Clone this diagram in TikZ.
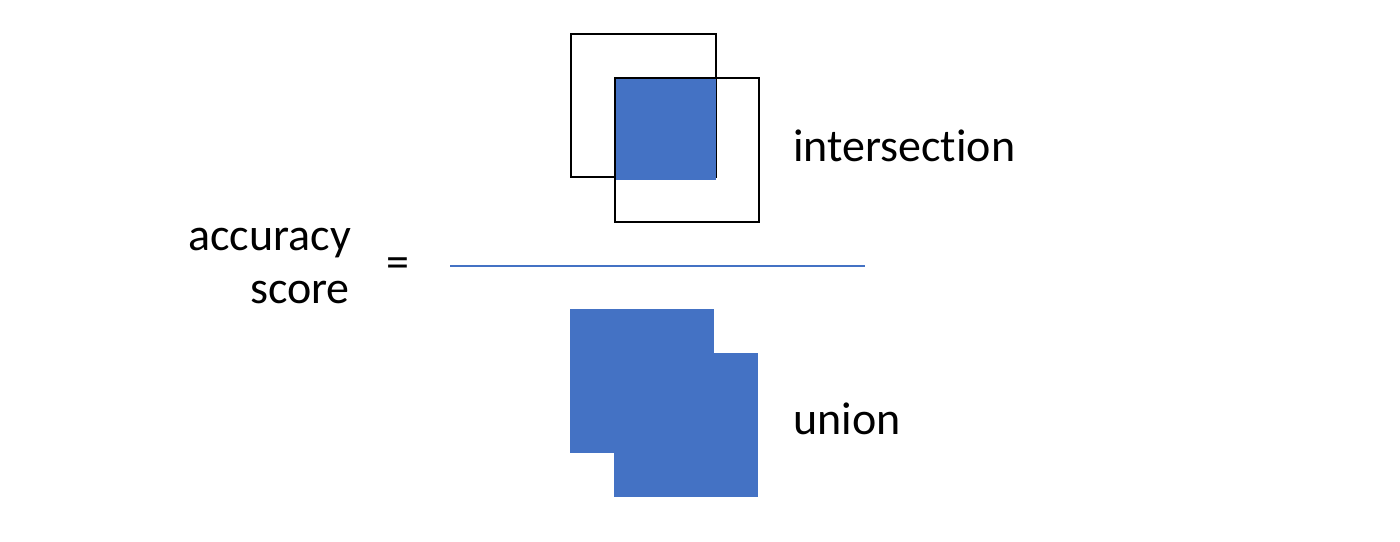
\documentclass[tikz,border=0pt]{standalone}
\usepackage{fontspec}
\setmainfont{Carlito}[Ligatures={NoCommon}]
\usetikzlibrary{calc}

\definecolor{officeblue}{HTML}{4472C4}

\begin{document}
\begin{tikzpicture}[x=1pt,y=-1pt]
        % 画布大小
        \useasboundingbox (0,0) rectangle (1400,541);

        \tikzset{
            box/.style={draw=black, line width=2pt},
            patch/.style={fill=officeblue},
            word/.style={font=\fontsize{46}{55}\selectfont, inner sep=0pt}
        }

        % 交集部分的两个方框
        \coordinate (A1) at (571,34);
        \coordinate (A2) at (716,177);
        \coordinate (B1) at (615,78);
        \coordinate (B2) at (759,222);
        \coordinate (P1) at (616,79);
        \coordinate (P2) at (716,180);
        \draw [box] (A1) rectangle (A2);
        \fill [patch] (P1) rectangle (P2);
        \draw [box] (B1) rectangle (B2);

        % 分数线
        \coordinate (L) at (450,266);
        \coordinate (R) at (865,266);
        \draw [officeblue, line width=2.2pt] (L) -- (R);

        % 并集部分
        \coordinate (C1) at (570,309);
        \coordinate (C2) at (714,453);
        \coordinate (D1) at (614,353);
        \coordinate (D2) at (758,497);
        \fill [patch] (C1) rectangle (C2);
        \fill [patch] (D1) rectangle (D2);

        % 文字
        \node [word, anchor=base east] (acc) at (351,250) {accuracy};
        \node [word, anchor=base east] (score) at (350,303) {score};
        \node [word, anchor=base] (eq) at (398,277) {=};
        \node [word, anchor=base west] (inter) at (793,161) {intersection};
        \node [word, anchor=base west] (union) at (793,434) {union};

    \end{tikzpicture}
\end{document}
